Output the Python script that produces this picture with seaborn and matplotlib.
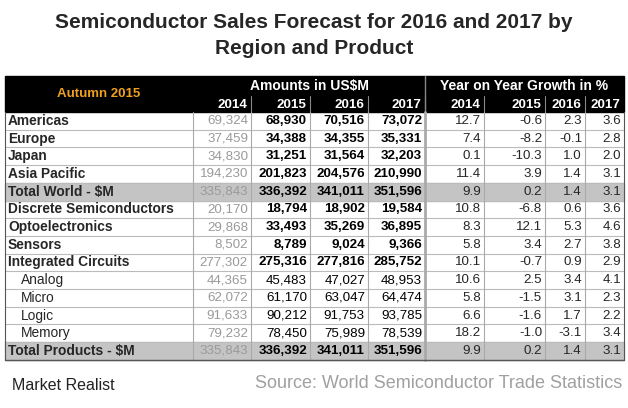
import matplotlib
matplotlib.use("Agg")
import matplotlib.pyplot as plt
import seaborn as sns
from matplotlib.patches import Rectangle

sns.set_style("white")
plt.rcParams['font.family'] = ['Liberation Sans', 'DejaVu Sans']

years = ["2014", "2015", "2016", "2017"]
rows = ["Americas", "Europe", "Japan", "Asia Pacific", "Total World - $M",
        "Discrete Semiconductors", "Optoelectronics", "Sensors", "Integrated Circuits",
        "Analog", "Micro", "Logic", "Memory", "Total Products - $M"]
sub_rows = ["Analog", "Micro", "Logic", "Memory"]
total_rows = ["Total World - $M", "Total Products - $M"]
amounts = [
    [69324, 68930, 70516, 73072],
    [37459, 34388, 34355, 35331],
    [34830, 31251, 31564, 32203],
    [194230, 201823, 204576, 210990],
    [335843, 336392, 341011, 351596],
    [20170, 18794, 18902, 19584],
    [29868, 33493, 35269, 36895],
    [8502, 8789, 9024, 9366],
    [277302, 275316, 277816, 285752],
    [44365, 45483, 47027, 48953],
    [62072, 61170, 63047, 64474],
    [91633, 90212, 91753, 93785],
    [79232, 78450, 75989, 78539],
    [335843, 336392, 341011, 351596],
]
growth = [
    [12.7, -0.6, 2.3, 3.6],
    [7.4, -8.2, -0.1, 2.8],
    [0.1, -10.3, 1.0, 2.0],
    [11.4, 3.9, 1.4, 3.1],
    [9.9, 0.2, 1.4, 3.1],
    [10.8, -6.8, 0.6, 3.6],
    [8.3, 12.1, 5.3, 4.6],
    [5.8, 3.4, 2.7, 3.8],
    [10.1, -0.7, 0.9, 2.9],
    [10.6, 2.5, 3.4, 4.1],
    [5.8, -1.5, 3.1, 2.3],
    [6.6, -1.6, 1.7, 2.2],
    [18.2, -1.0, -3.1, 3.4],
    [9.9, 0.2, 1.4, 3.1],
]

fig = plt.figure(figsize=(6.28, 4.08), dpi=100)
ax = fig.add_axes([0, 0, 1, 1])
ax.set_xlim(0, 628)
ax.set_ylim(408, 0)
ax.axis("off")

fig.text(0.5, 1 - 22 / 408, "Semiconductor Sales Forecast for 2016 and 2017 by",
         ha="center", va="center", fontsize=15, fontweight="bold")
fig.text(0.5, 1 - 48 / 408, "Region and Product",
         ha="center", va="center", fontsize=15, fontweight="bold")

left, right = 5, 624
xs = [5, 193, 251, 310, 368, 425, 484, 545, 585, 624]
top, h1, h2 = 76, 96, 112
rh = 17.7
fs = 9.6

# header
ax.add_patch(Rectangle((left, top), right - left, h2 - top, color="black"))
ax.text(99, 94, "Autumn 2015", color="#f0a020", fontsize=9.5, fontweight="bold",
        ha="center", va="center")
ax.text(309, 86, "Amounts in US$M", color="white", fontsize=10, fontweight="bold",
        ha="center", va="center")
ax.text(524, 86, "Year on Year Growth in %", color="white", fontsize=10, fontweight="bold",
        ha="center", va="center")
ax.plot([425, 425], [top, h2], color="#888", lw=1)
for i in range(8):
    ax.text(xs[i + 2] - 4, 104.5, years[i % 4], color="white", fontsize=fs,
            fontweight="bold", ha="right", va="center")
    if i > 0:
        ax.plot([xs[i + 1], xs[i + 1]], [h1, h2], color="#888", lw=0.8)

for r, name in enumerate(rows):
    y0 = h2 + r * rh
    yc = y0 + rh / 2
    bold = name not in sub_rows
    if name in total_rows:
        ax.add_patch(Rectangle((left, y0), right - left, rh, color="#c4c4c4", zorder=0))
    ax.plot([left, right], [y0 + rh, y0 + rh], color="#bbbbbb", lw=0.8, zorder=1)
    ax.text(left + (16 if not bold else 3), yc, name, fontsize=fs + 0.3,
            fontweight="bold" if bold else "normal", va="center", ha="left")
    for j, v in enumerate(amounts[r]):
        ax.text(xs[j + 2] - 3, yc, f"{v:,}", fontsize=fs, va="center", ha="right",
                color="#9a9a9a" if j == 0 else "black",
                fontweight="bold" if (bold and j > 0) else "normal")
    for j, v in enumerate(growth[r]):
        ax.text(xs[j + 6] - 3, yc, f"{v:.1f}", fontsize=fs, va="center", ha="right")

bottom = h2 + len(rows) * rh
for k, x in enumerate(xs):
    ax.plot([x, x], [h2, bottom], color="#555" if k in (0, 9) else "#aaa",
            lw=2 if x == 425 else 0.8, zorder=2)
ax.plot([left, right], [bottom, bottom], color="#555", lw=1)

ax.text(12, 386, "Market Realist", fontsize=11.5, va="center", ha="left", color="#222")
ax.text(622, 384, "Source: World Semiconductor Trade Statistics", fontsize=13,
        va="center", ha="right", color="#a0a0a0")

fig.savefig("out.png", dpi=100)
